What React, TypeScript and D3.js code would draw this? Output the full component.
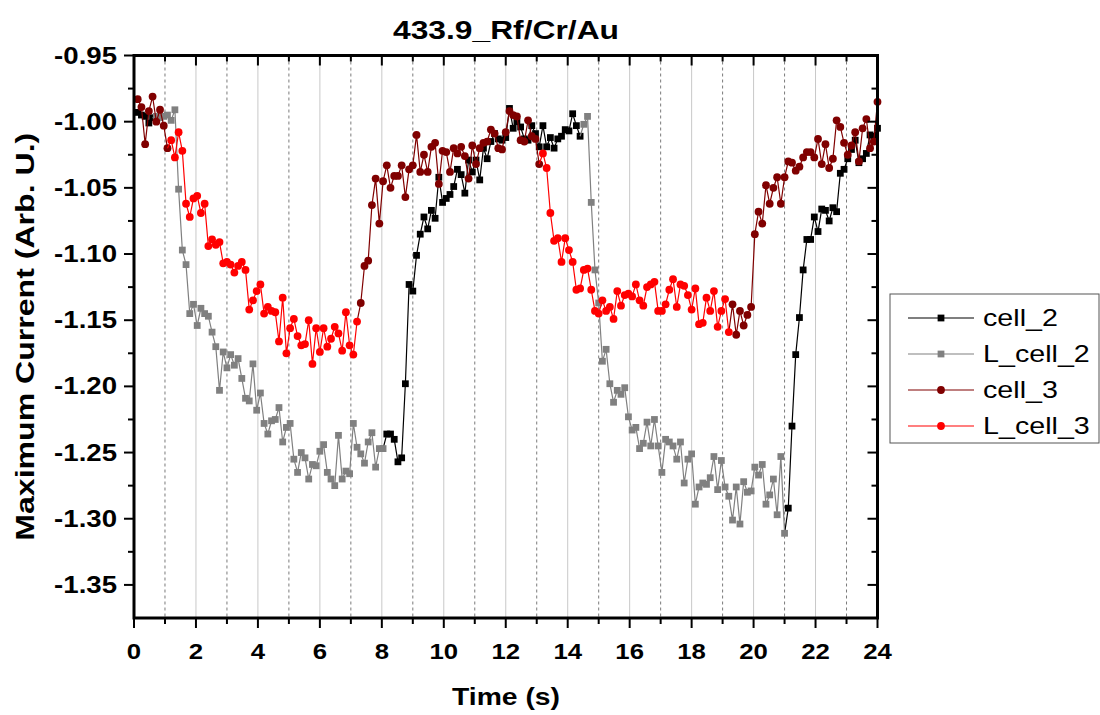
import React, { useEffect, useRef } from 'react';
import * as d3 from 'd3';

// sampling interval of the recording (s)
const DT = 0.12;

// cell_2 / L_cell_2 trace (dark and illuminated parts)
const cell_2_a = [-0.993, -0.995, -0.996, -1.001, -0.997];
const L_cell_2_a = [
  -0.996, -0.997, -0.996, -0.995, -0.999, -0.991, -1.051, -1.097, -1.108, -1.145,
  -1.138, -1.154, -1.141, -1.145, -1.147, -1.159, -1.170, -1.203, -1.174, -1.186,
  -1.176, -1.184, -1.179, -1.194, -1.209, -1.211, -1.183, -1.218, -1.205, -1.228,
  -1.236, -1.226, -1.225, -1.216, -1.242, -1.231, -1.228, -1.255, -1.265, -1.250,
  -1.254, -1.270, -1.259, -1.260, -1.249, -1.244, -1.265, -1.270, -1.275, -1.237,
  -1.270, -1.264, -1.266, -1.228, -1.246, -1.251, -1.258, -1.242, -1.235, -1.261,
  -1.247, -1.247,
];
const cell_2_b = [
  -1.236, -1.236, -1.240, -1.257, -1.254, -1.198, -1.123, -1.128, -1.101, -1.085,
  -1.072, -1.081, -1.067, -1.073, -1.042, -1.061, -1.058, -1.055, -1.049, -1.036,
  -1.040, -1.054, -1.029, -1.038, -1.029, -1.044, -1.020, -1.028, -1.015, -1.009,
  -1.013, -1.014, -1.012, -0.990, -1.005, -1.000, -1.004, -1.013, -1.014, -1.003,
  -1.009, -1.019, -1.003, -1.019, -1.012, -1.020, -1.013, -1.011, -1.006, -1.007,
  -0.994, -1.003, -1.011,
];
const L_cell_2_b = [
  -1.002, -0.996, -1.061, -1.112, -1.137, -1.181, -1.172, -1.198, -1.212, -1.203,
  -1.206, -1.201, -1.223, -1.233, -1.231, -1.247, -1.243, -1.227, -1.245, -1.225,
  -1.245, -1.265, -1.240, -1.242, -1.245, -1.255, -1.242, -1.273, -1.255, -1.251,
  -1.289, -1.276, -1.273, -1.274, -1.269, -1.253, -1.278, -1.256, -1.276, -1.283,
  -1.301, -1.276, -1.304, -1.272, -1.280, -1.279, -1.261, -1.267, -1.259, -1.289,
  -1.282, -1.270, -1.297, -1.253, -1.311,
];
const cell_2_c = [
  -1.292, -1.230, -1.176, -1.148, -1.112, -1.089, -1.089, -1.072, -1.083, -1.066,
  -1.067, -1.075, -1.065, -1.068, -1.039, -1.036, -1.028, -1.021, -1.014, -1.031,
  -1.028, -1.024, -1.010, -1.011, -1.005,
];

// cell_3 / L_cell_3 trace
const cell_3_a = [-0.983, -0.989, -1.017, -0.992, -0.981, -1.000, -0.991, -1.003, -1.020];
const L_cell_3_a = [
  -1.014, -1.027, -1.008, -1.022, -1.062, -1.072, -1.058, -1.056, -1.069, -1.062,
  -1.094, -1.089, -1.093, -1.091, -1.107, -1.106, -1.108, -1.114, -1.109, -1.106,
  -1.112, -1.142, -1.135, -1.128, -1.123, -1.145, -1.140, -1.143, -1.144, -1.166,
  -1.133, -1.175, -1.156, -1.149, -1.162, -1.169, -1.168, -1.150, -1.183, -1.156,
  -1.174, -1.156, -1.170, -1.164, -1.155, -1.160, -1.173, -1.144, -1.169, -1.176,
  -1.151,
];
const cell_3_b = [
  -1.137, -1.109, -1.105, -1.063, -1.043, -1.077, -1.045, -1.033, -1.050, -1.041,
  -1.041, -1.033, -1.057, -1.036, -1.033, -1.010, -1.038, -1.025, -1.038, -1.019,
  -1.016, -1.047, -1.022, -1.023, -1.038, -1.020, -1.024, -1.019, -1.026, -1.043,
  -1.018, -1.032, -1.020, -1.016, -1.015, -1.006, -1.009, -1.020, -1.021, -1.008,
  -0.992, -0.995, -0.996, -1.014, -1.015, -0.999, -1.011, -1.013, -1.032,
];
const L_cell_3_b = [
  -1.024, -1.035, -1.069, -1.090, -1.088, -1.106, -1.088, -1.097, -1.106, -1.127,
  -1.126, -1.112, -1.111, -1.127, -1.143, -1.145, -1.135, -1.143, -1.140, -1.149,
  -1.128, -1.139, -1.131, -1.130, -1.132, -1.123, -1.135, -1.139, -1.125, -1.123,
  -1.121, -1.143, -1.143, -1.138, -1.127, -1.119, -1.140, -1.123, -1.124, -1.131,
  -1.142, -1.126, -1.153, -1.152, -1.133, -1.143, -1.128, -1.155, -1.143, -1.134,
  -1.159,
];
const cell_3_c = [
  -1.138, -1.161, -1.143, -1.154, -1.146, -1.140, -1.085, -1.068, -1.077, -1.048,
  -1.062, -1.050, -1.042, -1.062, -1.042, -1.030, -1.031, -1.037, -1.034, -1.027,
  -1.023, -1.023, -1.027, -1.013, -1.032, -1.017, -1.035, -1.028, -0.999, -1.004,
  -1.016, -1.025, -1.018, -1.008, -1.030, -1.005, -0.998, -1.020, -1.015, -0.985,
];

// segments in time order, start = time of first sample (s)
const trace2 = [
  { name: 'cell_2', start: 0.12, values: cell_2_a },
  { name: 'L_cell_2', start: 0.72, values: L_cell_2_a },
  { name: 'cell_2', start: 8.16, values: cell_2_b },
  { name: 'L_cell_2', start: 14.52, values: L_cell_2_b },
  { name: 'cell_2', start: 21.12, values: cell_2_c },
];
const trace3 = [
  { name: 'cell_3', start: 0.12, values: cell_3_a },
  { name: 'L_cell_3', start: 1.2, values: L_cell_3_a },
  { name: 'cell_3', start: 7.32, values: cell_3_b },
  { name: 'L_cell_3', start: 13.2, values: L_cell_3_b },
  { name: 'cell_3', start: 19.32, values: cell_3_c },
];

const seriesNames = ['cell_2', 'L_cell_2', 'cell_3', 'L_cell_3'];
const seriesColors = ['#000000', '#808080', '#800000', '#ff0000'];
const seriesShapes = ['square', 'square', 'circle', 'circle'];

const xTicks = [0, 2, 4, 6, 8, 10, 12, 14, 16, 18, 20, 22, 24];
const yTicks = [-0.95, -1.0, -1.05, -1.1, -1.15, -1.2, -1.25, -1.3, -1.35];

const FONT = '"Liberation Sans", Arial, sans-serif';

const App = () => {
  const ref = useRef(null);

  useEffect(() => {
    const svg = d3.select(ref.current);
    svg.selectAll('*').remove();

    const left = 134, right = 877.5, top = 55.5, bottom = 618;
    const x = d3.scaleLinear().domain([0, 24]).range([left, right]);
    const y = d3.scaleLinear().domain([-1.375, -0.95]).range([bottom, top]);

    // vertical grid lines
    const grid = svg.append('g');
    d3.range(1, 24).forEach((t) => {
      grid.append('line')
        .attr('x1', x(t)).attr('x2', x(t))
        .attr('y1', top).attr('y2', bottom)
        .attr('stroke', t % 2 === 0 ? '#c8c8c8' : '#7a7a7a')
        .attr('stroke-width', 1)
        .attr('stroke-dasharray', t % 2 === 0 ? null : '3,3');
    });

    // data
    const plot = svg.append('g');
    const line = d3.line().x((d) => x(d[0])).y((d) => y(d[1]));
    const square = d3.symbol().type(d3.symbolSquare).size(46);

    const segs = [];
    [trace2, trace3].forEach((trace) => {
      trace.forEach((seg, si) => {
        const pts = seg.values.map((v, k) => [seg.start + k * DT, v]);
        let linePts = pts;
        if (si > 0) {
          const prev = trace[si - 1];
          const pv = prev.values;
          linePts = [[prev.start + (pv.length - 1) * DT, pv[pv.length - 1]], ...pts];
        }
        segs.push({ name: seg.name, pts, linePts });
      });
    });

    seriesNames.forEach((name, idx) => {
      const color = seriesColors[idx];
      segs.filter((s) => s.name === name).forEach((s) => {
        plot.append('path')
          .attr('d', line(s.linePts))
          .attr('fill', 'none')
          .attr('stroke', color)
          .attr('stroke-width', 1.2);
        const g = plot.append('g');
        if (seriesShapes[idx] === 'square') {
          g.selectAll('path').data(s.pts).enter().append('path')
            .attr('d', square)
            .attr('transform', (d) => `translate(${x(d[0])},${y(d[1])})`)
            .attr('fill', color);
        } else {
          g.selectAll('circle').data(s.pts).enter().append('circle')
            .attr('cx', (d) => x(d[0]))
            .attr('cy', (d) => y(d[1]))
            .attr('r', 3.9)
            .attr('fill', color);
        }
      });
    });

    // frame and ticks
    const axes = svg.append('g').attr('stroke', '#000');
    axes.append('rect')
      .attr('x', left).attr('y', top)
      .attr('width', right - left).attr('height', bottom - top)
      .attr('fill', 'none').attr('stroke-width', 3);

    d3.range(0, 24.01, 1).forEach((t) => {
      const major = t % 2 === 0;
      const len = major ? 10 : 6;
      axes.append('line').attr('x1', x(t)).attr('x2', x(t))
        .attr('y1', bottom).attr('y2', bottom + len).attr('stroke-width', 2);
      axes.append('line').attr('x1', x(t)).attr('x2', x(t))
        .attr('y1', top).attr('y2', top + len).attr('stroke-width', 2);
    });
    d3.range(0, 17).forEach((k) => {
      const v = -0.95 - k * 0.025;
      const major = k % 2 === 0;
      const len = major ? 10 : 6;
      axes.append('line').attr('x1', left - len).attr('x2', left)
        .attr('y1', y(v)).attr('y2', y(v)).attr('stroke-width', 2);
      axes.append('line').attr('x1', right - len).attr('x2', right)
        .attr('y1', y(v)).attr('y2', y(v)).attr('stroke-width', 2);
    });

    // tick labels
    const labels = svg.append('g')
      .attr('font-family', FONT).attr('font-weight', 'bold').attr('font-size', 23);
    xTicks.forEach((t) => {
      labels.append('text')
        .attr('transform', `translate(${x(t)},659) scale(1.12,1)`)
        .attr('text-anchor', 'middle')
        .text(String(t));
    });
    yTicks.forEach((v) => {
      labels.append('text')
        .attr('transform', `translate(117,${y(v) + 8}) scale(1.2,1)`)
        .attr('text-anchor', 'end')
        .text(v.toFixed(2));
    });

    // titles
    svg.append('text')
      .attr('x', 506).attr('y', 39)
      .attr('text-anchor', 'middle')
      .attr('font-family', FONT).attr('font-weight', 'bold').attr('font-size', 25)
      .attr('textLength', 226).attr('lengthAdjust', 'spacingAndGlyphs')
      .text('433.9_Rf/Cr/Au');
    svg.append('text')
      .attr('x', 506).attr('y', 705)
      .attr('text-anchor', 'middle')
      .attr('font-family', FONT).attr('font-weight', 'bold').attr('font-size', 24)
      .attr('textLength', 108).attr('lengthAdjust', 'spacingAndGlyphs')
      .text('Time (s)');
    svg.append('text')
      .attr('transform', `translate(34,${(top + bottom) / 2}) rotate(-90)`)
      .attr('text-anchor', 'middle')
      .attr('font-family', FONT).attr('font-weight', 'bold').attr('font-size', 25)
      .attr('textLength', 408).attr('lengthAdjust', 'spacingAndGlyphs')
      .text('Maximum Current (Arb. U.)');

    // legend
    const lg = svg.append('g');
    lg.append('rect')
      .attr('x', 890).attr('y', 294).attr('width', 209).attr('height', 149)
      .attr('fill', '#fff').attr('stroke', '#555').attr('stroke-width', 1);
    seriesNames.forEach((name, i) => {
      const cy = 318 + i * 36;
      const color = seriesColors[i];
      lg.append('line').attr('x1', 908).attr('x2', 974)
        .attr('y1', cy).attr('y2', cy).attr('stroke', color).attr('stroke-width', 1.2);
      if (seriesShapes[i] === 'square') {
        lg.append('path').attr('d', square).attr('transform', `translate(941,${cy})`).attr('fill', color);
      } else {
        lg.append('circle').attr('cx', 941).attr('cy', cy).attr('r', 3.9).attr('fill', color);
      }
      lg.append('text')
        .attr('transform', `translate(983,${cy + 8}) scale(1.22,1)`)
        .attr('font-family', FONT).attr('font-size', 23.5)
        .text(name);
    });
  }, []);

  return (
    <svg
      ref={ref}
      width={1100}
      height={715}
      style={{ position: 'absolute', left: 0, top: 0, background: '#fff' }}
    />
  );
};

export default App;
